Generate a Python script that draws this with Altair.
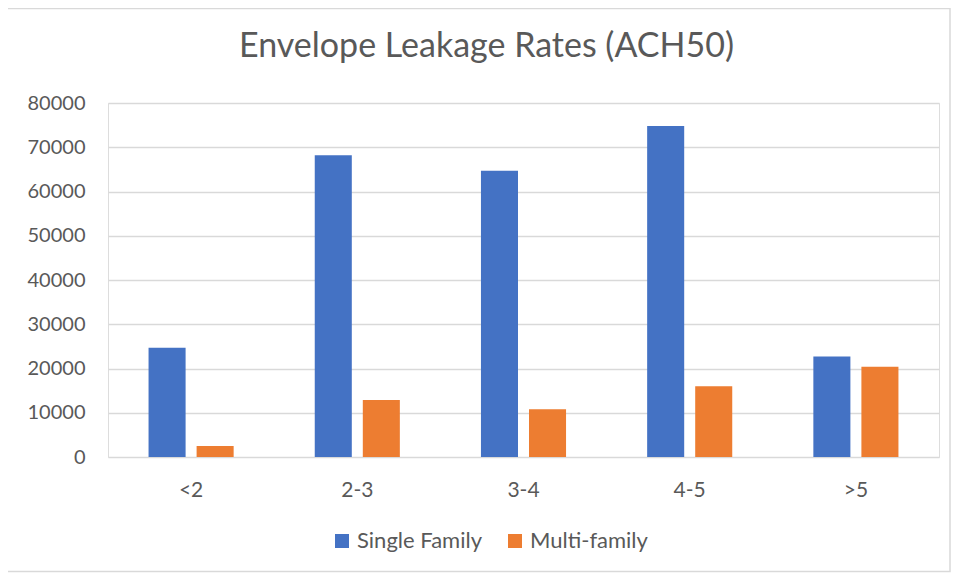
import altair as alt
import pandas as pd

categories = ["<2", "2-3", "3-4", "4-5", ">5"]
single_family = [24700, 68200, 64700, 74800, 22700]
multi_family = [2500, 12900, 10800, 16000, 20400]
series = ["Single Family", "Multi-family"]
colors = ["#4472C4", "#ED7D31"]
y_ticks = [0, 10000, 20000, 30000, 40000, 50000, 60000, 70000, 80000]

rows = []
for c, s, m in zip(categories, single_family, multi_family):
    rows.append({"category": c, "series": series[0], "value": s})
    rows.append({"category": c, "series": series[1], "value": m})
df = pd.DataFrame(rows)

W, H = 831, 354
FONT = "Lato"
TXT = "#595959"

bars = alt.Chart(df).mark_bar().encode(
    x=alt.X(
        "category:N", sort=categories,
        scale=alt.Scale(paddingInner=0.488, paddingOuter=0.244),
        axis=alt.Axis(title=None, labelAngle=0, ticks=False, domain=False, grid=False,
                      labelFont=FONT, labelFontSize=21, labelColor=TXT, labelPadding=22),
    ),
    xOffset=alt.XOffset("series:N", sort=series,
                        scale=alt.Scale(paddingInner=0.229, paddingOuter=0)),
    y=alt.Y(
        "value:Q", scale=alt.Scale(domain=[0, 80000], nice=False),
        axis=alt.Axis(title=None, values=y_ticks, format="d", ticks=False, domain=False,
                      gridColor="#D9D9D9", gridWidth=1.5,
                      labelFont=FONT, labelFontSize=20, labelColor=TXT, labelPadding=23),
    ),
    color=alt.Color(
        "series:N", sort=series,
        scale=alt.Scale(domain=series, range=colors),
        legend=alt.Legend(title=None, orient="none", direction="horizontal",
                          legendX=223, legendY=427,
                          symbolType="square", symbolSize=196, symbolStrokeWidth=0,
                          labelFont=FONT, labelFontSize=22, labelColor=TXT,
                          columnPadding=22, labelOffset=4),
    ),
)

frame = alt.Chart(pd.DataFrame({"a": [0]})).mark_rect(
    fill=None, stroke="#D9D9D9", strokeWidth=1.5
).encode(
    x=alt.value(-101), x2=alt.value(842),
    y=alt.value(-94.5), y2=alt.value(468.5),
)

chart = alt.layer(frame, bars).properties(
    width=W, height=H,
    title=alt.TitleParams("Envelope Leakage Rates (ACH50)", anchor="middle", dx=-37,
                          offset=-83, baseline="alphabetic",
                          font=FONT, fontSize=34, fontWeight="normal", color=TXT),
    autosize=alt.AutoSizeParams(type="none"),
    padding={"left": 100, "top": 95, "right": 12, "bottom": 116},
).configure_view(stroke=None).configure(background="white")

chart.save("out.html", embed_options={"renderer": "svg", "actions": False})
